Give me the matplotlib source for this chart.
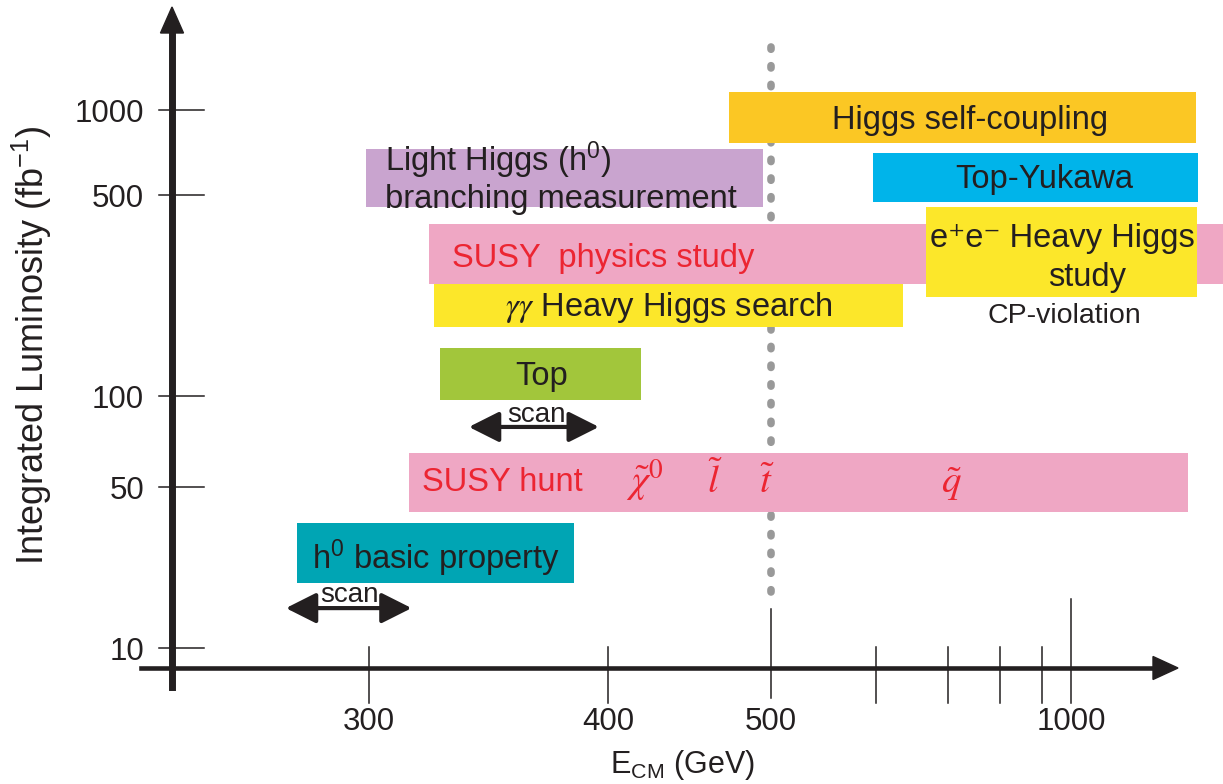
import numpy as np
import matplotlib
matplotlib.use("Agg")
import matplotlib.pyplot as plt
import matplotlib.transforms as mtransforms
from matplotlib.patches import Polygon, FancyArrowPatch, ArrowStyle
from matplotlib.lines import Line2D

plt.rcParams['font.family'] = ['Liberation Sans', 'DejaVu Sans']
plt.rcParams['mathtext.fontset'] = 'custom'
plt.rcParams['mathtext.rm'] = 'Liberation Sans'
plt.rcParams['mathtext.it'] = 'Liberation Sans:italic'
plt.rcParams['mathtext.bf'] = 'Liberation Sans:bold'
plt.rcParams['mathtext.default'] = 'rm'

# ---------------- data ----------------
x_tick_values = [300, 400, 500, 1000]
x_minor_values = [600, 700, 800, 900]
y_tick_values = [10, 50, 100, 500, 1000]

study_names = ['Higgs self-coupling', 'Light Higgs branching', 'Top-Yukawa',
               'SUSY physics study', 'e+e- Heavy Higgs study', 'gamma-gamma Heavy Higgs search',
               'Top', 'SUSY hunt', 'h0 basic property']
study_e_min = [470, 299, 597, 320, 666, 322, 324, 313, 279]
study_e_max = [1920, 494, 1950, 3000, 1930, 634, 417, 1810, 382]
study_lumi_min = [764, 455, 473, 245, 221, 174, 97, 39, 19.2]
study_lumi_max = [1158, 728, 704, 396, 454, 245, 147, 65, 35]
study_colors = ['#FBC724', '#C9A4CF', '#00B4EA', '#EFA7C4', '#FCE72A',
                '#FCE72A', '#A2C63B', '#EFA7C4', '#00A5B4']

scan_e_min = [335, 276]
scan_e_max = [395, 314]
scan_lumi = [79, 14.9]

label_texts = ['Higgs self-coupling', 'Light Higgs (h$^0$)', 'branching measurement',
               'Top-Yukawa', 'SUSY  physics study', 'e⁺e⁻ Heavy Higgs', 'study',
               r'$\mathit{\gamma\gamma}$ Heavy Higgs search', 'CP-violation', 'Top', 'SUSY hunt',
               'h$^0$ basic property', 'scan', 'scan']
label_e = [739, 305, 305, 906, 328.5, 967, 1065, 432, 977, 366, 317.6, 283, 363.5, 294]
label_lumi = [947, 693, 498, 586, 309, 363, 265, 210.6, 193.6, 120, 53.1, 25.7, 88.5, 17.5]
label_ha = ['center', 'left', 'left', 'center', 'left', 'center', 'center', 'center',
            'center', 'center', 'left', 'left', 'center', 'center']
label_red = [False, False, False, False, True, False, False, False, False, False, True,
             False, False, False]
label_size = [23.5, 23.5, 23.5, 23.5, 23.5, 23.5, 23.5, 23.5, 20.5, 23.5, 23.5, 23.5, 20, 20]

particle_texts = [r'$\tilde{\mathit{\chi}}^{\mathrm{0}}$', r'$\tilde{\mathit{l}}$',
                  r'$\tilde{\mathit{t}}$', r'$\tilde{\mathit{q}}$']
particle_e = [419, 460, 497, 705]
particle_lumi = 47.1

dotted_e = 500
dotted_lumi = [17.5, 1750]

# ---------------- hand-drawn axis calibration ----------------
W, H = 1223, 784
X_KNOT_E = np.array([300, 400, 500, 600, 700, 800, 900, 1000], float)
X_KNOT_PX = np.array([369, 608, 771, 876, 948, 1000, 1042, 1071], float)
Y_KNOT_L = np.array([10, 50, 100, 500, 1000], float)
Y_KNOT_PX = np.array([648, 487, 396, 195, 110], float)


def interp_extrap(x, xp, fp):
    x = np.asarray(x, float)
    y = np.interp(x, xp, fp)
    lo_s = (fp[1] - fp[0]) / (xp[1] - xp[0])
    hi_s = (fp[-1] - fp[-2]) / (xp[-1] - xp[-2])
    y = np.where(x < xp[0], fp[0] + (x - xp[0]) * lo_s, y)
    y = np.where(x > xp[-1], fp[-1] + (x - xp[-1]) * hi_s, y)
    return y


def fwd_x(e):
    e = np.clip(np.asarray(e, float), 1e-3, None)
    return interp_extrap(-1.0 / e, -1.0 / X_KNOT_E, X_KNOT_PX)


def inv_x(p):
    u = interp_extrap(p, X_KNOT_PX, -1.0 / X_KNOT_E)
    u = np.minimum(u, -1e-9)
    return -1.0 / u


def fwd_y(v):
    v = np.clip(np.asarray(v, float), 1e-12, None)
    return interp_extrap(np.log10(v), np.log10(Y_KNOT_L), H - Y_KNOT_PX)


def inv_y(p):
    return 10 ** interp_extrap(p, H - Y_KNOT_PX, np.log10(Y_KNOT_L))


DARK = '#231F20'
RED = '#EC2532'

fig = plt.figure(figsize=(W / 100, H / 100), dpi=100)
ax = fig.add_axes([0, 0, 1, 1])
ax.set_xscale('function', functions=(fwd_x, inv_x))
ax.set_yscale('function', functions=(fwd_y, inv_y))
ax.autoscale(False)
ax.set_xlim(float(inv_x(0.0)), float(inv_x(W)))
ax.set_ylim(float(inv_y(0.0)), float(inv_y(H)))
ax.axis('off')

# reference-pixel transform (origin top-left) for the hand-drawn frame
ref = mtransforms.Affine2D().scale(1.0 / W, -1.0 / H).translate(0, 1) + ax.transAxes
x_data_y_ref = mtransforms.blended_transform_factory(ax.transData, ref)
x_ref_y_data = mtransforms.blended_transform_factory(ref, ax.transData)

# dotted line at 500 GeV
ax.plot([dotted_e, dotted_e], dotted_lumi, color='#999999', lw=5.5,
        linestyle=(0, (0.3, 2.15)), dash_capstyle='round', zorder=1)

# study boxes
ax.bar(study_e_min, height=np.subtract(study_lumi_max, study_lumi_min),
       bottom=study_lumi_min, width=np.subtract(study_e_max, study_e_min),
       align='edge', color=study_colors, linewidth=0, zorder=2)

# labels
for t, e, l, ha, red, sz in zip(label_texts, label_e, label_lumi, label_ha, label_red, label_size):
    ax.text(e, l, t, ha=ha, va='center_baseline', fontsize=sz,
            color=RED if red else DARK, zorder=4,
            math_fontfamily='stix' if 'gamma' in t else 'custom')

for t, e in zip(particle_texts, particle_e):
    ax.text(e, particle_lumi, t, ha='center', va='baseline', fontsize=28,
            color=RED, math_fontfamily='stix', zorder=4)

# scan arrows
for e0, e1, l in zip(scan_e_min, scan_e_max, scan_lumi):
    arr = FancyArrowPatch((e0, l), (e1, l),
                          arrowstyle=ArrowStyle('<|-|>', head_length=18.5, head_width=9.3),
                          mutation_scale=1, lw=3, color=DARK, shrinkA=0, shrinkB=0, zorder=4)
    ax.add_patch(arr)

# ---------------- hand-drawn axes ----------------
ax.add_line(Line2D([172, 172], [687, 30], transform=ref, color=DARK, lw=5, zorder=5))
ax.add_patch(Polygon([(160.5, 33), (183.5, 33), (172, 7)], closed=True, transform=ref,
                     color=DARK, zorder=5))
ax.add_line(Line2D([141, 1156], [668, 668], transform=ref, color=DARK, lw=3.3, zorder=5))
ax.add_patch(Polygon([(1153, 656.5), (1153, 679.5), (1178, 668)], closed=True, transform=ref,
                     color=DARK, zorder=5))

for v in y_tick_values:
    ax.add_line(Line2D([159, 204], [v, v], transform=x_ref_y_data, color=DARK, lw=1.1, zorder=5))
    ax.text(144, v, str(v), transform=x_ref_y_data, ha='right', va='center_baseline',
            fontsize=22.5, color=DARK)

for v in x_tick_values + x_minor_values:
    if v == 500:
        y0, y1 = 609, 698
    elif v == 1000:
        y0, y1 = 599, 703
    else:
        y0, y1 = 647, 703
    ax.add_line(Line2D([v, v], [y0, y1], transform=x_data_y_ref, color=DARK, lw=1.1, zorder=5))
for v in x_tick_values:
    ax.text(v, 718.5, str(v), transform=x_data_y_ref, ha='center', va='center_baseline',
            fontsize=22.5, color=DARK)

ax.text(682, 773, r'E$_{\mathrm{CM}}$ (GeV)', transform=ref, ha='center', va='baseline',
        fontsize=22, color=DARK)
ax.text(32, 345, r'Integrated Luminosity (fb$^{-1}$)', transform=ref, ha='center',
        va='center', rotation=90, fontsize=26, color=DARK)

fig.savefig('out.png', dpi=100)
